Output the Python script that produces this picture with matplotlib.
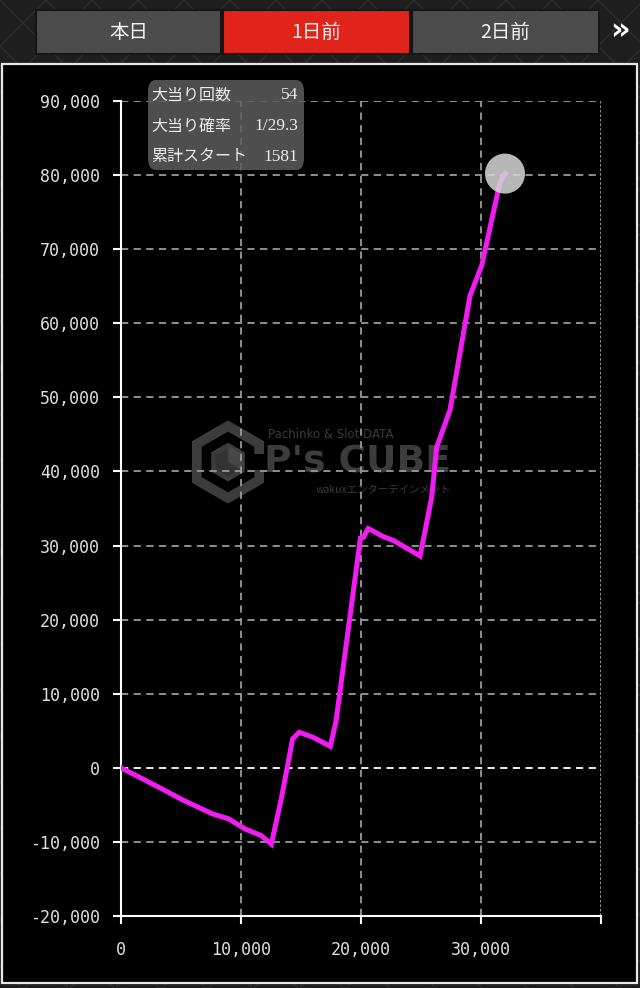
import numpy as np
import matplotlib.pyplot as plt
from matplotlib.patches import Rectangle, FancyBboxPatch, Polygon
from matplotlib.lines import Line2D
from matplotlib.ticker import FuncFormatter

# Values
games = [0, 2840, 5220, 7600, 8960, 10320, 11680, 12530, 13380, 14300, 14860,
         16030, 17440, 17920, 19950, 20200, 20600, 21860, 22690, 24920, 25890,
         26310, 27420, 29080, 30060, 31580, 32000]
balance = [0, -2360, -4400, -6200, -6880, -8240, -9140, -10300, -4000, 3900, 4800,
           4100, 2900, 6300, 31000, 31100, 32300, 31200, 30700, 28600, 36500,
           43300, 48300, 63700, 67800, 79000, 80200]
x_ticks = [0, 10000, 20000, 30000, 40000]
y_ticks = list(range(-20000, 90001, 10000))
tab_labels = ['本日', '1日前', '2日前']
info_names = ['大当り回数', '大当り確率', '累計スタート']
info_values = ['54', '1/29.3', '1581']

W, H = 640, 988
fig = plt.figure(figsize=(W / 100, H / 100), dpi=100)
fig.patch.set_facecolor('#1e1e1e')
jp = ['Noto Sans CJK JP', 'DejaVu Sans']


def px(x, y):
    # pixel (top-left origin) -> figure fraction
    return x / W, 1 - y / H


# diamond texture in the background
for k in range(-30, 30):
    c = k * 46
    fig.add_artist(Line2D([c / W, (c + H) / W], [1, 0], color='#2c2c2c', lw=1.2, zorder=0))
    fig.add_artist(Line2D([c / W, (c - H) / W], [1, 0], color='#2c2c2c', lw=1.2, zorder=0))

# tabs
tab_edges = [35, 222, 411, 600]
for i, lab in enumerate(tab_labels):
    x0, x1 = tab_edges[i], tab_edges[i + 1]
    fc = '#e0241c' if i == 1 else '#4b4b4b'
    fig.add_artist(Rectangle(px(x0 + 1, 54), (x1 - x0 - 2) / W, 44 / H,
                             facecolor=fc, edgecolor='#151515', lw=1.5, zorder=1))
    fig.text((x0 + x1) / 2 / W, 1 - 32 / H, lab, ha='center', va='center',
             color='#f2f2f2', fontsize=14, family=jp)
fig.text(620 / W, 1 - 31 / H, '»', ha='center', va='center', color='white',
         fontsize=22, fontweight='bold')

# black chart panel
fig.add_artist(Rectangle(px(2, 983), 635 / W, 919 / H, facecolor='black',
                         edgecolor='#e8e8e8', lw=1.6, zorder=1))

# watermark
wm = '#3c3c3c'
cx, cy = 228, 462
angles = np.radians(np.arange(30, 390, 60))
hex_fig = [px(cx + 36 * np.cos(a), cy + 36 * np.sin(a)) for a in angles]
fig.add_artist(Polygon(hex_fig, closed=True, fill=False, edgecolor=wm, lw=7, zorder=2))
inner = [px(cx + 17 * np.cos(a), cy + 17 * np.sin(a)) for a in angles]
fig.add_artist(Polygon(inner, closed=True, facecolor='#333333', edgecolor=wm, lw=3, zorder=2))
fig.add_artist(Polygon([px(cx, cy), px(cx, cy - 17),
                        px(cx + 17 * np.cos(np.radians(-30)), cy - 8.5),
                        px(cx + 17 * np.cos(np.radians(30)), cy + 8.5)],
                       closed=True, facecolor='#474747', edgecolor=wm, lw=1, zorder=2))
fig.add_artist(Rectangle(px(cx + 20, cy + 8), 22 / W, 16 / H, facecolor='black', zorder=2))
fig.text(268 / W, 1 - 434 / H, 'Pachinko & Slot DATA', color=wm, fontsize=8.5,
         ha='left', va='center', zorder=2)
fig.text(264 / W, 1 - 462 / H, "P's CUBE", color=wm, fontsize=27, fontweight='bold',
         ha='left', va='center', family=['Liberation Sans Narrow', 'DejaVu Sans'], zorder=2)
fig.text(316 / W, 1 - 490 / H, 'wakuxエンターテインメント', color=wm, fontsize=7.5,
         ha='left', va='center', family=jp, zorder=2)

ax = fig.add_axes([121 / W, (H - 916) / H, 480 / W, 815 / H])
ax.set_facecolor('none')
ax.set_zorder(3)
ax.set_xlim(0, 40000)
ax.set_ylim(-20000, 90000)

# grid
for v in y_ticks[1:]:
    ax.axhline(v, color='white' if v == 0 else '#9a9a9a', lw=1.3,
               ls=(0, (4, 3)), zorder=1)
for v in x_ticks[1:-1]:
    ax.axvline(v, color='#9a9a9a', lw=1.3, ls=(0, (4, 3)), zorder=1)
ax.axvline(x_ticks[-1], color='#9a9a9a', lw=1.3, ls=(0, (1.5, 1)), zorder=1)

ax.plot(games, balance, color='#f21cf2', lw=3.6, solid_joinstyle='miter', zorder=4)
ax.scatter([games[-1]], [balance[-1]], s=830, color='#d8d8d8', alpha=0.85,
           edgecolors='none', zorder=5)

for s in ['top', 'right']:
    ax.spines[s].set_visible(False)
for s in ['left', 'bottom']:
    ax.spines[s].set_color('white')
    ax.spines[s].set_linewidth(1.5)

ax.set_xticks(x_ticks)
ax.set_xticklabels([f'{v:,}' if v < 40000 else '' for v in x_ticks])
ax.set_yticks(y_ticks)
ax.yaxis.set_major_formatter(FuncFormatter(lambda v, p: f'{int(v):,}'))
ax.tick_params(axis='both', colors='white', labelcolor='#e0e0e0', length=6,
               width=1.5, direction='out', labelsize=12)
ax.tick_params(axis='x', pad=12)
ax.tick_params(axis='y', pad=9)
for lab in ax.get_xticklabels() + ax.get_yticklabels():
    lab.set_family('DejaVu Sans Mono')

# info box
fig.add_artist(FancyBboxPatch(px(148, 170), 156 / W, 90 / H,
                              boxstyle='round,pad=0,rounding_size=0.012',
                              facecolor='#5c5c5c', alpha=0.85, edgecolor='none', zorder=6))
for i, (n, v) in enumerate(zip(info_names, info_values)):
    yy = 1 - (95 + i * 31) / H
    fig.text(151 / W, yy, n, color='#ececec', fontsize=11.5, ha='left', va='center',
             family=jp, zorder=7)
    fig.text(298 / W, yy, v, color='#ececec', fontsize=12.5, ha='right', va='center',
             family=['Liberation Serif', 'DejaVu Serif'], zorder=7)

fig.savefig('out.png', dpi=100, facecolor=fig.get_facecolor())
